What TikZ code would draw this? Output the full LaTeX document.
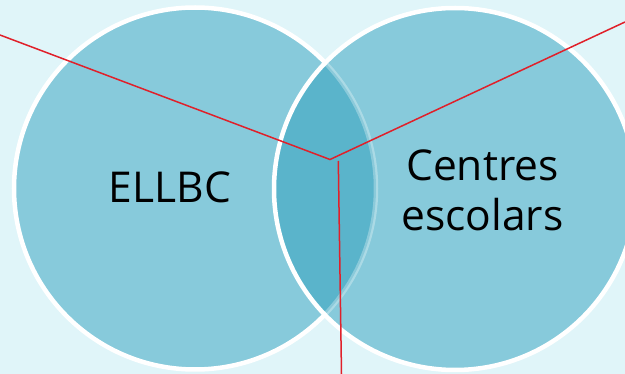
\documentclass[tikz,border=0pt]{standalone}
\usepackage{fontspec}
\setmainfont{Open Sans}
\definecolor{bgc}{HTML}{E0F5F9}
\definecolor{circc}{HTML}{87CADB}
\definecolor{overc}{HTML}{5AB4CB}
\definecolor{redc}{HTML}{E0202A}
\begin{document}
\begin{tikzpicture}[x=1pt,y=-1pt,
  ring/.style={draw=white,line width=4.5pt},
  redline/.style={draw=redc,line width=1.5pt},
  lbl/.style={font=\fontsize{42.5}{50}\selectfont,align=center,text=black}]
\fill[bgc] (0,0) rectangle (625,374);
\useasboundingbox (0,0) rectangle (625,374);
\coordinate (L) at (195,188.5);
\coordinate (R) at (455,189);
\def\rad{181}
% left circle
\fill[circc] (L) circle[radius=\rad];
\draw[ring] (L) circle[radius=\rad];
% right circle
\fill[circc] (R) circle[radius=\rad];
\begin{scope}
  \clip (L) circle[radius=\rad];
  \fill[overc] (R) circle[radius=\rad];
\end{scope}
\begin{scope}
  \clip (R) circle[radius=\rad];
  \draw[draw=white,line width=4.5pt,opacity=0.3] (L) circle[radius=\rad];
\end{scope}
\draw[ring] (R) circle[radius=\rad];
% labels
\node[lbl] (ellbc) at (170,187) {ELLBC};
\node[lbl] (centres) at (482.5,190) {Centres\\escolars};
% red lines
\coordinate (J) at (330,159.5);
\coordinate (Vs) at (338.3,161);
\coordinate (A) at (0,35);
\coordinate (B) at (625,22);
\coordinate (C) at (341.5,374);
\draw[redline] (A) -- (J) -- (B);
\draw[redline] (Vs) -- (C);
\end{tikzpicture}
\end{document}
